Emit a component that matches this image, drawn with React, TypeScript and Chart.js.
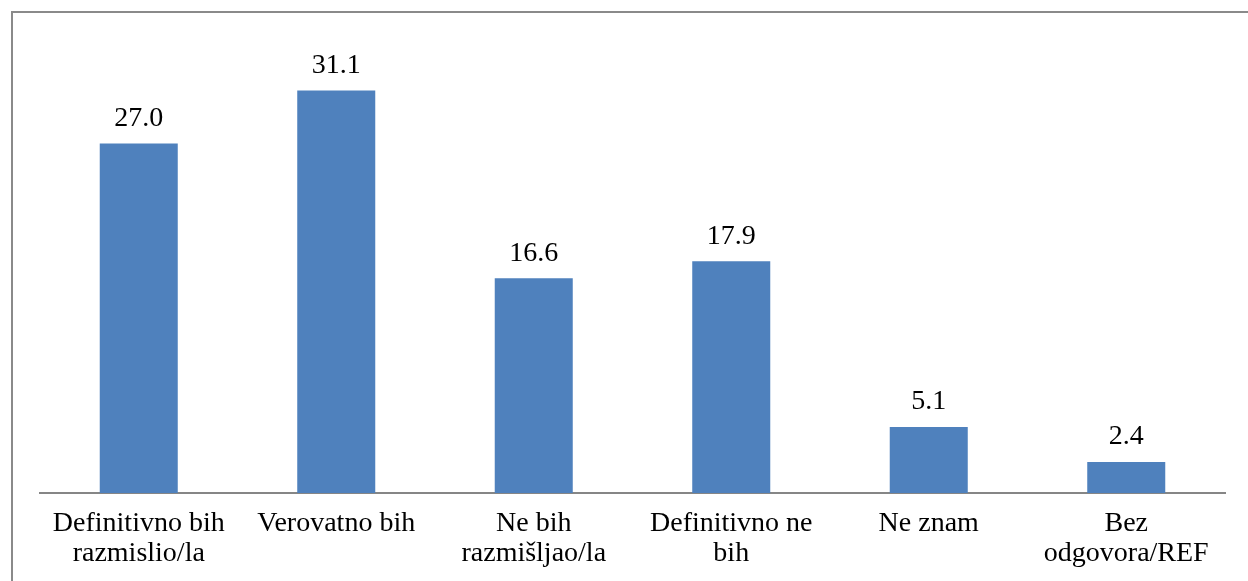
import React, { useEffect, useRef } from "react";
import { Chart, registerables } from "chart.js";

Chart.register(...registerables);

const categories: string[][] = [
  ["Definitivno bih", "razmislio/la"],
  ["Verovatno bih"],
  ["Ne bih", "razmišljao/la"],
  ["Definitivno ne", "bih"],
  ["Ne znam"],
  ["Bez", "odgovora/REF"],
];
const values: number[] = [27.0, 31.1, 16.6, 17.9, 5.1, 2.4];
const valueLabels: string[] = ["27.0", "31.1", "16.6", "17.9", "5.1", "2.4"];

const FONT = "'Liberation Serif', 'Times New Roman', serif";

const framePlugin = {
  id: "frame",
  beforeDraw(chart: any) {
    const ctx = chart.ctx;
    ctx.save();
    ctx.fillStyle = "#ffffff";
    ctx.fillRect(0, 0, chart.width, chart.height);
    ctx.strokeStyle = "#8a8a8a";
    ctx.lineWidth = 2;
    ctx.strokeRect(12, 12, chart.width + 40, chart.height + 40);
    ctx.restore();
  },
};

const labelPlugin = {
  id: "valueLabels",
  afterDatasetsDraw(chart: any) {
    const ctx = chart.ctx;
    const meta = chart.getDatasetMeta(0);
    ctx.save();
    ctx.fillStyle = "#000000";
    ctx.font = `28px ${FONT}`;
    ctx.textAlign = "center";
    ctx.textBaseline = "alphabetic";
    meta.data.forEach((bar: any, i: number) => {
      ctx.fillText(valueLabels[i], bar.x, bar.y - 17.5);
    });
    ctx.restore();
  },
};

export default function App() {
  const ref = useRef<HTMLCanvasElement | null>(null);
  useEffect(() => {
    document.body.style.margin = "0";
    const canvas = ref.current!;
    const chart = new Chart(canvas, {
      type: "bar",
      data: {
        labels: categories,
        datasets: [
          {
            data: values,
            backgroundColor: "#4F81BD",
            borderWidth: 0,
            barPercentage: 1,
            categoryPercentage: 0.395,
          },
        ],
      },
      options: {
        animation: false,
        responsive: false,
        maintainAspectRatio: false,
        layout: { padding: { left: 40, right: 23, top: 40, bottom: -4 } },
        plugins: {
          legend: { display: false },
          tooltip: { enabled: false },
        },
        scales: {
          x: {
            grid: { display: false, drawTicks: false },
            border: { display: true, color: "#868686", width: 2 },
            ticks: {
              color: "#000000",
              font: { family: FONT, size: 28, lineHeight: "30px" },
              padding: 16,
              maxRotation: 0,
              autoSkip: false,
            },
          },
          y: {
            display: false,
            min: 0,
            max: 35,
          },
        },
      },
      plugins: [framePlugin, labelPlugin],
    });
    return () => chart.destroy();
  }, []);
  return (
    <div style={{ width: 1248, height: 581 }}>
      <canvas ref={ref} width={1248} height={581} style={{ display: "block" }} />
    </div>
  );
}
